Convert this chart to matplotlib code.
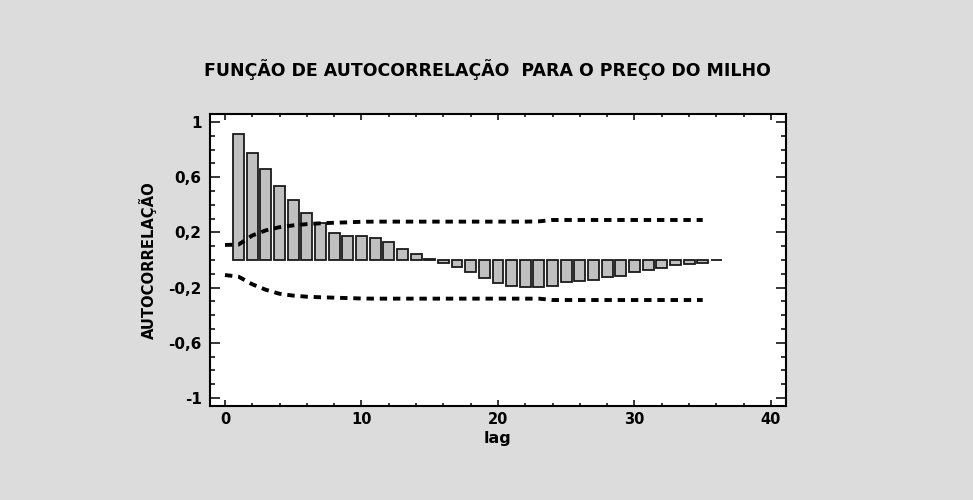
import numpy as np
import matplotlib
matplotlib.use("Agg")
import matplotlib.pyplot as plt
from matplotlib.ticker import MultipleLocator, FixedLocator

plt.rcParams['font.family'] = ['DejaVu Sans']
plt.rcParams['font.weight'] = 'bold'

# autocorrelacoes estimadas, lags 1..36
lags = np.arange(1, 37)
acf = [0.911, 0.773, 0.657, 0.539, 0.432, 0.343, 0.266, 0.198, 0.176, 0.176,
       0.162, 0.128, 0.082, 0.043, 0.005, -0.024, -0.048, -0.085, -0.128, -0.164,
       -0.186, -0.193, -0.193, -0.186, -0.162, -0.150, -0.145, -0.126, -0.114, -0.089,
       -0.072, -0.056, -0.036, -0.029, -0.024, -0.003]

# limites de confianca (95%)
band_lags = np.arange(0, 36)
band_upper = [0.109, 0.112, 0.178, 0.215, 0.238, 0.251, 0.260, 0.266, 0.270, 0.273,
              0.277, 0.278, 0.278, 0.278, 0.278, 0.278, 0.278, 0.278, 0.278, 0.278,
              0.278, 0.278, 0.278, 0.280, 0.290, 0.290, 0.290, 0.290, 0.290, 0.290,
              0.290, 0.290, 0.290, 0.290, 0.290, 0.290]
band_lower = [-0.109, -0.121, -0.176, -0.216, -0.245, -0.258, -0.266, -0.270, -0.273, -0.276,
              -0.279, -0.280, -0.280, -0.280, -0.280, -0.280, -0.280, -0.280, -0.280, -0.280,
              -0.280, -0.280, -0.280, -0.280, -0.290, -0.290, -0.290, -0.290, -0.290, -0.290,
              -0.290, -0.290, -0.290, -0.290, -0.290, -0.290]

yticks = [-1, -0.6, -0.2, 0.2, 0.6, 1]
ytick_labels = ['-1', '-0,6', '-0,2', '0,2', '0,6', '1']

fig = plt.figure(figsize=(9.73, 5.0), dpi=100, facecolor='#dcdcdc')
ax = fig.add_axes([0.2158, 0.188, 0.592, 0.584])
ax.set_facecolor('white')

ax.bar(lags, acf, width=0.8, color='#c0c0c0', edgecolor='#1a1a1a', linewidth=1.3, zorder=2)
for b in (band_upper, band_lower):
    ax.plot(band_lags, b, color='black', linewidth=2.8, dashes=(1.9, 1.5),
            dash_capstyle='butt', zorder=3)

ax.set_xlim(-1.1, 41.1)
ax.set_ylim(-1.058, 1.058)
ax.set_xticks([0, 10, 20, 30, 40])
ax.xaxis.set_minor_locator(MultipleLocator(2))
ax.yaxis.set_major_locator(FixedLocator(yticks))
ax.set_yticklabels(ytick_labels)
ax.yaxis.set_minor_locator(MultipleLocator(0.1))

ax.tick_params(axis='both', which='both', direction='in', top=True, right=True,
               width=1.1, color='black')
ax.tick_params(axis='x', which='major', length=4.5, labelsize=10.5, pad=4)
ax.tick_params(axis='x', which='minor', length=2)
ax.tick_params(axis='y', which='major', length=7.2, labelsize=11, pad=6)
ax.tick_params(axis='y', which='minor', length=3.6)
for s in ax.spines.values():
    s.set_linewidth(1.5)

fig.text(487 / 973, 1 - 70 / 500, 'FUNÇÃO DE AUTOCORRELAÇÃO  PARA O PREÇO DO MILHO',
         ha='center', va='center', fontsize=12.5, fontweight='bold')
fig.text(148 / 973, 1 - 260 / 500, 'AUTOCORRELAÇÃO', rotation=90,
         ha='center', va='center', fontsize=10.6, fontweight='bold')
fig.text(497 / 973, 1 - 438 / 500, 'lag', ha='center', va='center',
         fontsize=11.5, fontweight='bold')

fig.savefig('out.png', dpi=100, facecolor=fig.get_facecolor())
